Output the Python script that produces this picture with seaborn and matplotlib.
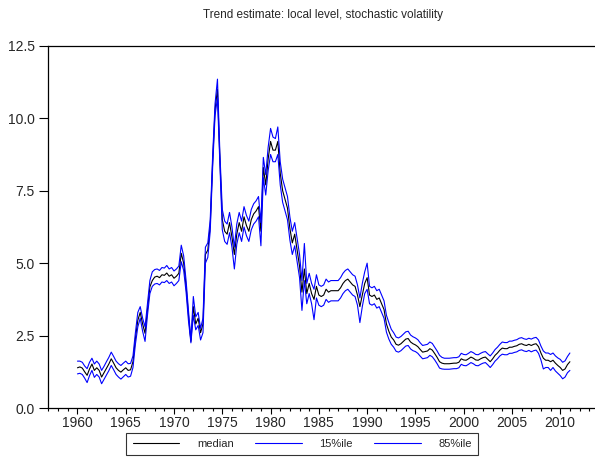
import matplotlib
matplotlib.use("Agg")
import numpy as np
import pandas as pd
import matplotlib.pyplot as plt
import seaborn as sns
from matplotlib.ticker import MultipleLocator

# quarterly, 1960Q1 .. 2011Q1
median = [
    1.39, 1.42, 1.38, 1.25,  1.13, 1.35, 1.52, 1.30,  1.39, 1.30, 1.07, 1.22,  1.37, 1.52, 1.70, 1.55,
    1.39, 1.30, 1.24, 1.32,  1.39, 1.30, 1.32, 1.60,  2.40, 3.03, 3.30, 2.90,  2.58, 3.40, 4.18, 4.40,
    4.52, 4.55, 4.50, 4.60,  4.58, 4.66, 4.55, 4.60,  4.48, 4.55, 4.65, 5.34,  5.00, 4.20, 3.20, 2.30,
    3.50, 2.90, 3.10, 2.60,  2.90, 5.30, 5.45, 6.30,  8.50, 10.30, 11.00, 8.60,  6.50, 6.10, 6.00, 6.40,
    5.90, 5.30, 6.00, 6.40,  6.10, 6.60, 6.30, 6.10,  6.50, 6.70, 6.80, 6.95,  6.10, 8.30, 7.70, 8.60,
    9.20, 8.90, 8.90, 9.20,  8.10, 7.50, 7.20, 6.90,  6.20, 5.70, 6.00, 5.45,  4.90, 4.00, 4.80, 3.95,
    4.30, 3.95, 3.75, 4.20,  3.90, 3.85, 3.90, 4.10,  4.00, 4.05, 4.05, 4.05,  4.05, 4.15, 4.30, 4.40,
    4.45, 4.35, 4.25, 4.20,  3.90, 3.50, 3.90, 4.30,  4.50, 3.90, 3.85, 3.90,  3.75, 3.80, 3.60, 3.40,
    2.90, 2.65, 2.45, 2.35,  2.20, 2.17, 2.22, 2.30,  2.38, 2.40, 2.28, 2.22,  2.18, 2.12, 2.02, 1.93,
    1.95, 1.97, 2.05, 2.00,  1.88, 1.75, 1.60, 1.55,  1.53, 1.53, 1.53, 1.54,  1.55, 1.55, 1.58, 1.70,
    1.66, 1.65, 1.70, 1.76,  1.72, 1.66, 1.65, 1.70,  1.74, 1.76, 1.68, 1.60,  1.70, 1.82, 1.90, 2.00,
    2.07, 2.05, 2.05, 2.10,  2.10, 2.13, 2.15, 2.20,  2.22, 2.18, 2.16, 2.20,  2.16, 2.20, 2.22, 2.12,
    1.90, 1.72, 1.65, 1.65,  1.60, 1.65, 1.55, 1.47,  1.40, 1.30, 1.35, 1.50,  1.60,
]
pct15 = [
    1.18, 1.20, 1.16, 1.03,  0.88, 1.12, 1.30, 1.06,  1.16, 1.07, 0.84, 0.99,  1.14, 1.29, 1.47, 1.32,
    1.16, 1.07, 1.00, 1.08,  1.16, 1.07, 1.10, 1.40,  2.20, 2.80, 3.10, 2.65,  2.30, 3.20, 3.95, 4.20,
    4.28, 4.30, 4.25, 4.35,  4.33, 4.40, 4.30, 4.35,  4.22, 4.30, 4.40, 5.05,  4.75, 4.00, 3.00, 2.25,
    3.20, 2.70, 2.85, 2.35,  2.60, 5.00, 5.20, 6.10,  8.30, 10.10, 10.70, 8.40,  6.15, 5.75, 5.65, 6.05,
    5.55, 4.80, 5.65, 6.05,  5.75, 6.25, 5.95, 5.75,  6.15, 6.35, 6.45, 6.60,  5.60, 7.95, 7.35, 8.20,
    8.75, 8.50, 8.50, 8.75,  7.70, 7.10, 6.80, 6.50,  5.80, 5.30, 5.60, 5.05,  4.50, 3.37, 4.40, 3.60,
    3.95, 3.60, 3.05, 3.80,  3.55, 3.50, 3.55, 3.75,  3.65, 3.70, 3.70, 3.70,  3.70, 3.80, 3.95, 4.05,
    4.10, 4.00, 3.90, 3.85,  3.55, 2.95, 3.50, 3.95,  4.10, 3.60, 3.55, 3.60,  3.45, 3.50, 3.30, 3.10,
    2.62, 2.38, 2.20, 2.10,  1.96, 1.93, 1.98, 2.06,  2.14, 2.16, 2.04, 1.98,  1.95, 1.89, 1.79, 1.70,
    1.72, 1.74, 1.82, 1.77,  1.66, 1.53, 1.38, 1.35,  1.34, 1.34, 1.34, 1.35,  1.36, 1.36, 1.39, 1.51,
    1.47, 1.46, 1.51, 1.57,  1.53, 1.47, 1.46, 1.51,  1.55, 1.57, 1.49, 1.40,  1.50, 1.62, 1.70, 1.80,
    1.86, 1.84, 1.84, 1.89,  1.89, 1.92, 1.94, 1.99,  2.01, 1.97, 1.95, 1.99,  1.94, 1.98, 2.00, 1.89,
    1.66, 1.35, 1.40, 1.40,  1.30, 1.40, 1.28, 1.20,  1.12, 1.01, 1.07, 1.22,  1.30,
]
pct85 = [
    1.62, 1.62, 1.58, 1.45,  1.36, 1.58, 1.72, 1.52,  1.62, 1.52, 1.30, 1.44,  1.60, 1.75, 1.93, 1.78,
    1.62, 1.53, 1.47, 1.55,  1.62, 1.53, 1.54, 1.80,  2.60, 3.30, 3.50, 3.10,  2.80, 3.60, 4.40, 4.70,
    4.78, 4.80, 4.75, 4.85,  4.83, 4.92, 4.80, 4.85,  4.73, 4.80, 4.90, 5.62,  5.25, 4.40, 3.35, 2.35,
    3.85, 3.15, 3.30, 2.75,  3.10, 5.55, 5.70, 6.50,  8.70, 10.50, 11.35, 8.80,  6.85, 6.45, 6.35, 6.75,
    6.25, 5.55, 6.35, 6.75,  6.45, 6.95, 6.65, 6.45,  6.85, 7.05, 7.15, 7.30,  6.40, 8.65, 8.05, 9.00,
    9.65, 9.35, 9.30, 9.70,  8.50, 7.90, 7.60, 7.30,  6.60, 6.10, 6.40, 5.85,  5.30, 4.40, 5.68, 4.30,
    4.65, 4.30, 4.10, 4.60,  4.25, 4.20, 4.25, 4.45,  4.35, 4.40, 4.40, 4.40,  4.40, 4.50, 4.65, 4.75,
    4.80, 4.70, 4.60, 4.55,  4.25, 3.80, 4.30, 4.70,  5.00, 4.20, 4.15, 4.20,  4.05, 4.10, 3.90, 3.70,
    3.20, 2.95, 2.72, 2.60,  2.45, 2.42, 2.47, 2.55,  2.63, 2.65, 2.52, 2.46,  2.42, 2.36, 2.25, 2.16,
    2.18, 2.20, 2.28, 2.23,  2.10, 1.97, 1.82, 1.75,  1.72, 1.72, 1.72, 1.73,  1.74, 1.74, 1.77, 1.89,
    1.85, 1.84, 1.89, 1.95,  1.91, 1.85, 1.84, 1.89,  1.93, 1.95, 1.87, 1.80,  1.90, 2.02, 2.10, 2.20,
    2.28, 2.26, 2.26, 2.31,  2.31, 2.34, 2.36, 2.41,  2.43, 2.39, 2.37, 2.41,  2.38, 2.42, 2.44, 2.35,
    2.14, 1.97, 1.90, 1.90,  1.85, 1.90, 1.80, 1.73,  1.68, 1.58, 1.63, 1.78,  1.90,
]
start_year = 1960
year_ticks = [1960, 1965, 1970, 1975, 1980, 1985, 1990, 1995, 2000, 2005, 2010]
y_ticks = [0.0, 2.5, 5.0, 7.5, 10.0, 12.5]

dates = start_year + np.arange(len(median)) / 4.0
df = pd.DataFrame({"date": dates, "median": median, "15%ile": pct15, "85%ile": pct85})

sns.set_style("ticks")
plt.rcParams["font.family"] = ["Liberation Sans", "DejaVu Sans"]

fig = plt.figure(figsize=(5.95, 4.58), dpi=100)
ax = fig.add_axes([0.0815, 0.109, 0.9185, 0.791])

# black median first, blue bands on top
sns.lineplot(data=df, x="date", y="median", color="black", lw=0.8, ax=ax, label="median")
sns.lineplot(data=df, x="date", y="15%ile", color="#0000ff", lw=0.8, ax=ax, label="15%ile")
sns.lineplot(data=df, x="date", y="85%ile", color="#0000ff", lw=0.8, ax=ax, label="85%ile")

ax.set_xlim(1957, 2013.6)
ax.set_ylim(0, 12.5)
ax.set_xticks(year_ticks)
ax.xaxis.set_minor_locator(MultipleLocator(1))
ax.set_yticks(y_ticks)
ax.set_yticklabels([f"{v:.1f}" for v in y_ticks])
ax.set_xlabel("")
ax.set_ylabel("")
ax.tick_params(axis="both", which="major", labelsize=10, direction="out", color="black", width=0.8)
ax.tick_params(axis="y", which="major", length=6.5)
ax.tick_params(axis="x", which="major", length=4, pad=2)
ax.tick_params(axis="x", which="minor", length=2.5, width=0.8, color="black")
for s in ["left", "bottom", "top"]:
    ax.spines[s].set_color("black")
    ax.spines[s].set_linewidth(0.9)
ax.spines["right"].set_visible(False)

fig.text(0.543, 0.968, "Trend estimate: local level, stochastic volatility",
         ha="center", va="center", fontsize=8.5)

ax.legend_.remove()
handles, labels = ax.get_legend_handles_labels()
leg = fig.legend(handles, labels, ncol=3, loc="center", bbox_to_anchor=(0.508, 0.031),
                 frameon=True, fancybox=False, fontsize=8, handlelength=4.2,
                 handletextpad=1.6, columnspacing=1.9, borderpad=0.55, borderaxespad=0)
leg.get_frame().set_edgecolor("black")
leg.get_frame().set_linewidth(0.8)

fig.savefig("out.png", dpi=100)
